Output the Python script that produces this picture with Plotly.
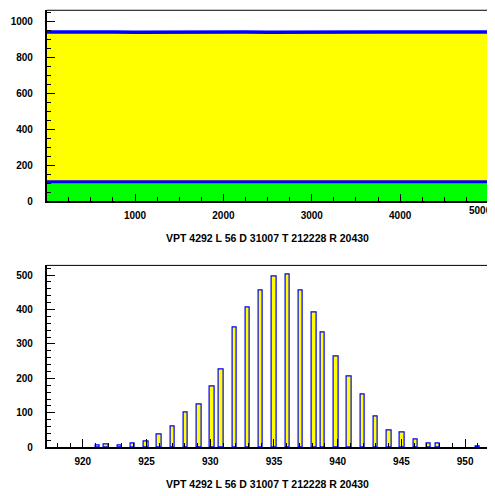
import plotly.graph_objects as go

# ---------------- data ----------------
# top panel: ADC value vs event number
event_no = [0, 250, 500, 750, 1000, 1250, 1500, 1750, 2000, 2250, 2500,
            2750, 3000, 3250, 3500, 3750, 4000, 4250, 4500, 4750, 5000]
adc_high = [940, 941, 940, 940, 939, 940, 940, 941, 940, 940, 939,
            940, 940, 941, 940, 940, 940, 941, 940, 940, 940]
adc_low = [108, 108, 109, 108, 108, 108, 108, 108, 108, 112, 108,
           108, 108, 108, 108, 108, 108, 108, 108, 108, 108]
top_ticks = [1000, 2000, 3000, 4000]
top_last_tick = 5000

# bottom panel: ADC distribution
adc_values = [921, 922, 923, 924, 925, 926, 927, 928, 929, 930, 931, 932, 933, 934,
              935, 936, 937, 938, 939, 940, 941, 942, 943, 944, 945, 946, 947, 948, 951]
adc_counts = [4, 7, 5, 12, 18, 38, 60, 100, 125, 177, 226, 348, 405, 455,
              497, 503, 455, 391, 333, 264, 205, 154, 91, 50, 44, 22, 11, 11, 2]

title_text = "VPT 4292 L 56 D 31007 T 212228 R 20430"

# ---------------- figure ----------------
OFF = 8                      # page body margin
W, H = 495 - OFF, 496 - OFF
FONT = "Liberation Sans"

def px(p):   # page x pixel -> paper fraction
    return (p - OFF) / W

def py(p):   # page y pixel -> paper fraction
    return 1 - (p - OFF) / H

fig = go.Figure()

fig.add_trace(go.Scatter(x=event_no, y=adc_high, mode="lines", fill="tozeroy",
                         fillcolor="#ffff00", line=dict(color="#0000ff", width=3.5),
                         xaxis="x", yaxis="y", showlegend=False))
fig.add_trace(go.Scatter(x=event_no, y=adc_low, mode="lines", fill="tozeroy",
                         fillcolor="#00ff00", line=dict(color="#0000ff", width=3),
                         xaxis="x", yaxis="y", showlegend=False))

fig.add_trace(go.Histogram(x=adc_values, y=adc_counts, histfunc="sum",
                           autobinx=False,
                           xbins=dict(start=917.166, end=951.833, size=0.34667),
                           marker=dict(color="#ffff00", line=dict(color="#0000ff", width=1.2)),
                           xaxis="x2", yaxis="y2", showlegend=False))

x0p, x1p = px(46.7), px(488.5)
xd = [x0p, x1p]
top_dom = [py(203.7), py(10.3)]
bot_dom = [py(452.7), py(268.6)]
tickfont = dict(family=FONT, size=10, color="black", weight="bold")

def ax(**kw):
    d = dict(showline=True, linecolor="black", linewidth=1.6, mirror=False,
             ticks="inside", tickcolor="black", tickwidth=1, showgrid=False,
             zeroline=False, tickfont=tickfont)
    d.update(kw)
    return d

shapes = []
for dom in (top_dom, bot_dom):
    shapes.append(dict(type="line", xref="paper", yref="paper", x0=x0p, x1=x1p,
                       y0=dom[1], y1=dom[1], line=dict(color="black", width=1), layer="above"))
    shapes.append(dict(type="line", xref="paper", yref="paper", x0=x1p, x1=x1p,
                       y0=dom[0], y1=dom[1], line=dict(color="#7f7f7f", width=1.2), layer="above"))
# major tick at the right end of the top x axis (its label is drawn as an annotation)
shapes.append(dict(type="line", xref="x", yref="paper", x0=top_last_tick, x1=top_last_tick,
                   y0=top_dom[0], y1=top_dom[0] + 7 / H, line=dict(color="black", width=1)))

fig.update_layout(
    width=W, height=H,
    margin=dict(l=0, r=0, t=0, b=0),
    paper_bgcolor="white", plot_bgcolor="white",
    bargap=0,
    shapes=shapes,
    xaxis=ax(domain=xd, anchor="y", range=[0, 5000],
             tickvals=top_ticks, ticklen=7, ticklabelstandoff=4,
             minor=dict(ticks="inside", ticklen=4, dtick=250, tick0=0,
                        tickcolor="black", tickwidth=1)),
    yaxis=ax(domain=top_dom, anchor="x", range=[0, 1061],
             dtick=200, tick0=0, ticklen=8, ticklabelstandoff=10,
             minor=dict(ticks="inside", ticklen=4, dtick=50, tick0=0,
                        tickcolor="black", tickwidth=1)),
    xaxis2=ax(domain=xd, anchor="y2", range=[917.166, 951.833],
              dtick=5, tick0=920, ticklen=8, ticklabelstandoff=4,
              minor=dict(ticks="inside", ticklen=4, dtick=1, tick0=920,
                         tickcolor="black", tickwidth=1)),
    yaxis2=ax(domain=bot_dom, anchor="x2", range=[0, 528],
              dtick=100, tick0=0, ticklen=8, ticklabelstandoff=10,
              minor=dict(ticks="inside", ticklen=4, dtick=20, tick0=0,
                         tickcolor="black", tickwidth=1)),
    annotations=[
        dict(text=str(top_last_tick), xref="paper", yref="paper", x=1.0, y=py(213.3),
             xanchor="right", yanchor="middle", showarrow=False, xshift=-1,
             font=tickfont),
        dict(text=title_text, xref="paper", yref="paper", x=px(267.5), y=py(240.7),
             xanchor="center", yanchor="middle", showarrow=False,
             font=dict(family=FONT, size=10.5, color="black", weight="bold")),
        dict(text=title_text, xref="paper", yref="paper", x=px(267.5), y=py(490),
             xanchor="center", yanchor="middle", showarrow=False,
             font=dict(family=FONT, size=10.5, color="black", weight="bold")),
    ],
)

fig.write_html("out.html")
